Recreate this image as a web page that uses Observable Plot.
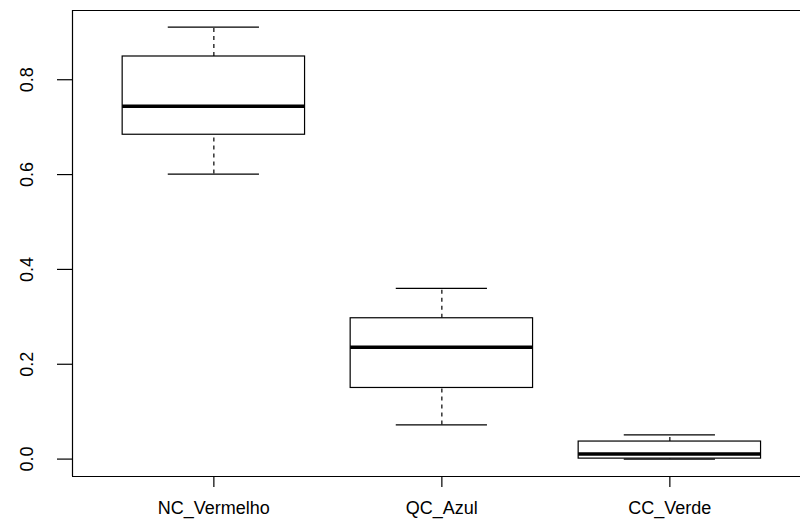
<!DOCTYPE html>
<html>
<head>
<meta charset="utf-8">
<script src="https://cdn.jsdelivr.net/npm/d3@7"></script>
<script src="https://cdn.jsdelivr.net/npm/@observablehq/plot@0.6"></script>
<style>
  html, body { margin: 0; padding: 0; background: #fff; }
  #chart svg { display: block; }
</style>
</head>
<body>
<div id="chart"></div>
<script>
const categories = ["NC_Vermelho", "QC_Azul", "CC_Verde"];
const mins    = [0.601, 0.072, 0.000];
const q1s     = [0.684, 0.150, 0.001];
const medians = [0.744, 0.236, 0.011];
const q3s     = [0.849, 0.297, 0.037];
const maxs    = [0.911, 0.360, 0.051];
const yTicks  = [0, 0.2, 0.4, 0.6, 0.8];

const rows = categories.map((c, i) => ({
  pos: i + 1, cat: c, min: mins[i], q1: q1s[i], med: medians[i], q3: q3s[i], max: maxs[i]
}));

const xDomain = [0.38, 3.573];
const yDomain = [-0.0367, 0.946];
const font = "'Liberation Sans', Arial, sans-serif";

const chart = Plot.plot({
  width: 800,
  height: 522,
  marginLeft: 72,
  marginRight: 0,
  marginTop: 10,
  marginBottom: 46,
  style: { fontFamily: font, fontSize: "18px", color: "#000", background: "#fff" },
  x: { type: "linear", domain: xDomain, axis: null },
  y: { type: "linear", domain: yDomain, axis: null },
  marks: [
    // frame lines (left, top, bottom)
    Plot.ruleX([xDomain[0]], { stroke: "#000", strokeWidth: 1.2 }),
    Plot.ruleY([yDomain[0], yDomain[1]], { stroke: "#000", strokeWidth: 1.2 }),
    // axes
    Plot.axisY({ ticks: yTicks, tickSize: 15, tickFormat: () => "", label: null, stroke: "#000", strokeWidth: 1.2 }),
    Plot.text(yTicks, { y: d => d, text: d => d.toFixed(1), frameAnchor: "left", dx: -45,
      rotate: -90, textAnchor: "middle", lineAnchor: "middle", fontSize: 18, fill: "#000" }),
    Plot.axisX({ ticks: [1, 2, 3], tickSize: 11, tickPadding: 14, label: null,
      tickFormat: d => categories[d - 1], fontSize: 18, stroke: "#000", strokeWidth: 1.2 }),
    // whiskers (dashed)
    Plot.ruleX(rows, { x: "pos", y1: "q3", y2: "max", stroke: "#000", strokeWidth: 1.2, strokeDasharray: "4,4" }),
    Plot.ruleX(rows, { x: "pos", y1: "min", y2: "q1", stroke: "#000", strokeWidth: 1.2, strokeDasharray: "4,4" }),
    // whisker caps
    Plot.ruleY(rows, { y: "max", x1: d => d.pos - 0.2, x2: d => d.pos + 0.2, stroke: "#000", strokeWidth: 1.2 }),
    Plot.ruleY(rows, { y: "min", x1: d => d.pos - 0.2, x2: d => d.pos + 0.2, stroke: "#000", strokeWidth: 1.2 }),
    // boxes
    Plot.rect(rows, { x1: d => d.pos - 0.4, x2: d => d.pos + 0.4, y1: "q1", y2: "q3",
      fill: "#fff", stroke: "#000", strokeWidth: 1.2 }),
    // medians
    Plot.ruleY(rows, { y: "med", x1: d => d.pos - 0.4, x2: d => d.pos + 0.4, stroke: "#000", strokeWidth: 3.5 })
  ]
});
document.getElementById("chart").appendChild(chart);
</script>
</body>
</html>
